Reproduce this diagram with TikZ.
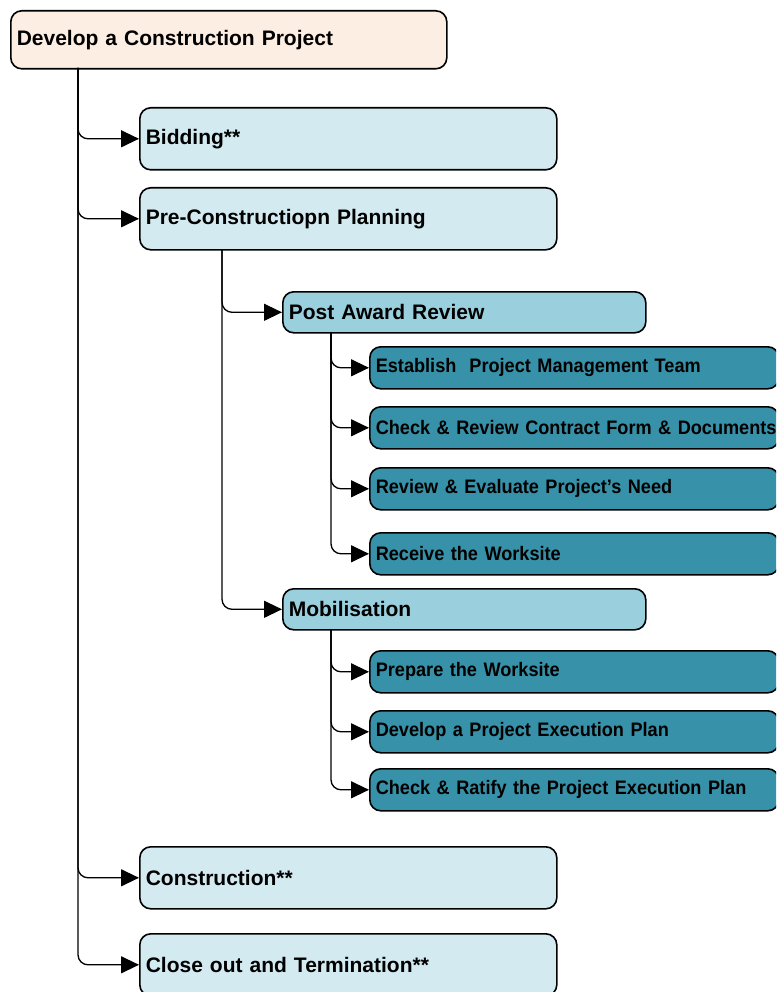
\documentclass[tikz,border=0pt]{standalone}
\usepackage{fontspec}
\setmainfont{Liberation Sans}
\newfontfamily\narrowfont{Liberation Sans}[FakeStretch=0.93]
\usetikzlibrary{arrows.meta}
\definecolor{peach}{RGB}{253,238,228}
\definecolor{lightblue}{RGB}{210,234,240}
\definecolor{midblue}{RGB}{154,207,221}
\definecolor{teal}{RGB}{55,145,168}
\tikzset{
  box/.style={draw=black, line width=1.6pt, rounded corners=11pt, anchor=north west,
    align=left, inner xsep=6pt, inner ysep=0pt},
  rootbox/.style={box, fill=peach, minimum width=436pt, text width=424pt, minimum height=58pt,
    font=\fontsize{21}{25}\selectfont\bfseries},
  lvone/.style={box, fill=lightblue, minimum width=417pt, text width=405pt, minimum height=62pt,
    font=\fontsize{21}{25}\selectfont\bfseries},
  lvtwo/.style={box, fill=midblue, minimum width=363pt, text width=351pt, minimum height=41pt,
    font=\fontsize{21}{25}\selectfont\bfseries},
  lvthree/.style={box, fill=teal, minimum width=409pt, text width=397pt, minimum height=42pt,
    font=\narrowfont\fontsize{19.5}{23}\selectfont\bfseries},
  conn/.style={draw=black, line width=1.3pt, rounded corners=10pt,
    -{Triangle[length=18pt,width=17pt]}}
}
\begin{document}
\begin{tikzpicture}[x=1pt,y=-1pt]
\useasboundingbox (0,0) rectangle (776,992);
\clip (0,0) rectangle (776,992);
\fill[white] (0,0) rectangle (776,992);

\node[rootbox] (root) at (10,10) {Develop a Construction Project};
\node[lvone] (bid) at (139,107) {Bidding**};
\node[lvone] (pre) at (139,187) {Pre-Constructiopn Planning};
\node[lvtwo] (par) at (282,291) {Post Award Review};
\node[lvthree] (est) at (369,346) {Establish\ \ Project Management Team};
\node[lvthree] (chk) at (369,406) {\mbox{Check \& Review Contract Form \& Documents}};
\node[lvthree] (rev) at (369,467) {Review \& Evaluate Project’s Need};
\node[lvthree] (rcv) at (369,532) {Receive the Worksite};
\node[lvtwo] (mob) at (282,588) {Mobilisation};
\node[lvthree] (prp) at (369,650) {Prepare the Worksite};
\node[lvthree] (dev) at (369,710) {Develop a Project Execution Plan};
\node[lvthree] (rat) at (369,768) {Check \& Ratify the Project Execution Plan};
\node[lvone] (con) at (139,846) {Construction**};
\node[lvone] (clo) at (139,933) {Close out and Termination**};

\coordinate (t0) at (78,68);
\coordinate (t1) at (222,249);
\coordinate (t2) at (331,332);
\coordinate (t3) at (331,630);

\foreach \n in {bid,pre,con,clo} \draw[conn] (t0) |- (\n.west);
\foreach \n in {par,mob} \draw[conn] (t1) |- (\n.west);
\foreach \n in {est,chk,rev,rcv} \draw[conn] (t2) |- (\n.west);
\foreach \n in {prp,dev,rat} \draw[conn] (t3) |- (\n.west);
\end{tikzpicture}
\end{document}
